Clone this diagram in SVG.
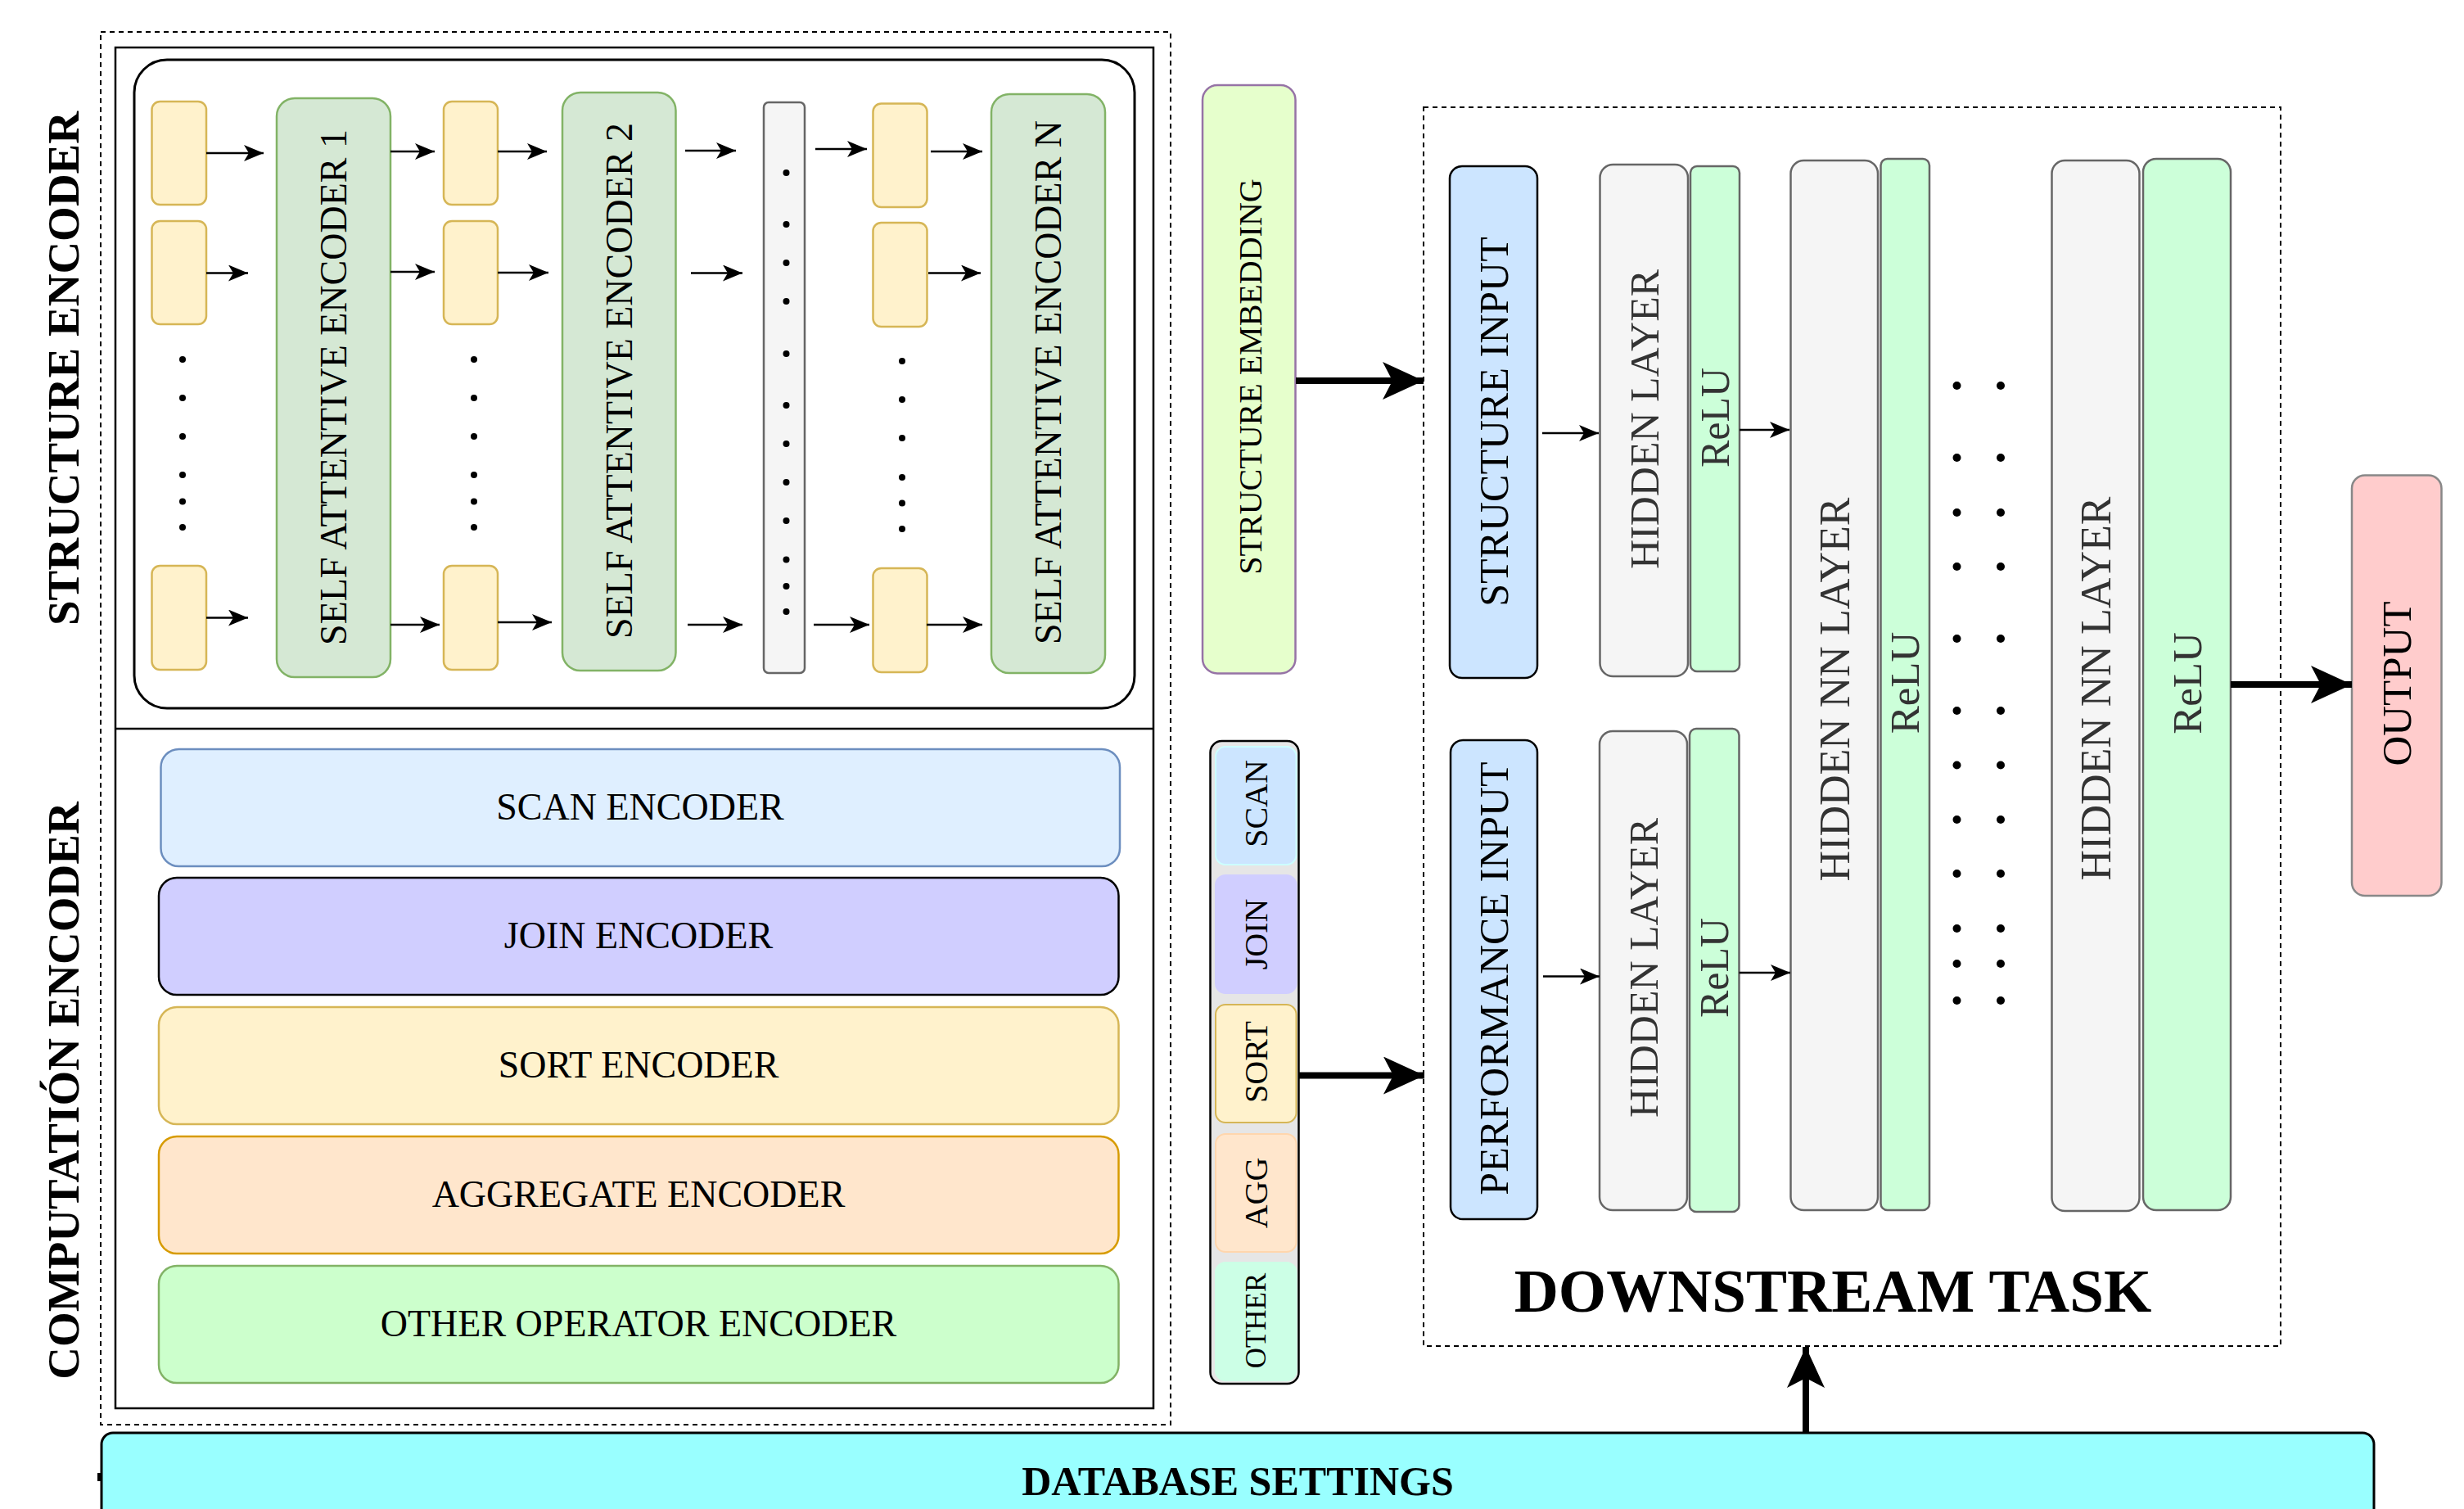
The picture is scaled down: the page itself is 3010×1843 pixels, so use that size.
<svg xmlns="http://www.w3.org/2000/svg" width="3010" height="1843" viewBox="0 0 3010 1843">
<style>
text{font-family:"Liberation Serif","Times New Roman",serif;fill:#000}
.v{text-anchor:middle;dominant-baseline:central}
.h{text-anchor:middle}
.b{font-weight:bold}
.tok{fill:#fff2cc;stroke:#d6b656;stroke-width:2.5}
.enc{fill:#d5e8d4;stroke:#82b366;stroke-width:2.5}
.gray{fill:#f5f5f5;stroke:#666;stroke-width:2.5}
.relu{fill:#ccffd9;stroke:#666;stroke-width:2.5}
.inp{fill:#cce5ff;stroke:#000;stroke-width:2.5}
.dash{fill:none;stroke:#000;stroke-width:2;stroke-dasharray:6 5}
.thin{stroke:#000;stroke-width:2.5;fill:none;marker-end:url(#a)}
.thick{stroke:#000;stroke-width:8;fill:none;marker-end:url(#A)}
.dot{fill:#000}
.g33{fill:#333}
</style>
<defs>
<marker id="a" markerUnits="userSpaceOnUse" markerWidth="26" markerHeight="22" refX="24" refY="10" orient="auto"><path d="M0,0 L24,10 L0,20 L6,10 Z" fill="#000"/></marker>
<marker id="A" markerUnits="userSpaceOnUse" markerWidth="52" markerHeight="48" refX="50" refY="23" orient="auto"><path d="M0,0 L50,23 L0,46 L12,23 Z" fill="#000"/></marker>
</defs>
<rect width="3010" height="1843" fill="#fff"/>

<!-- containers -->
<g id="encoder-frame">
<rect class="dash" x="123" y="39" width="1307" height="1701"/>
<rect x="141" y="58" width="1268" height="1662" fill="none" stroke="#000" stroke-width="2.5"/>
<line x1="141" y1="890" x2="1409" y2="890" stroke="#000" stroke-width="2.5"/>
<rect x="164" y="73" width="1222" height="792" rx="40" fill="none" stroke="#000" stroke-width="3"/>
</g>
<g id="label-structure-encoder"><text class="v b" font-size="55" transform="translate(77,450) rotate(-90)">STRUCTURE ENCODER</text></g>
<g id="label-computation-encoder"><text class="v b" font-size="55" transform="translate(77,1332) rotate(-90)">COMPUTATIÓN ENCODER</text></g>

<!-- token boxes -->
<g id="tokens-1">
<rect class="tok" x="185.5" y="124" width="66.5" height="126" rx="10"/>
<rect class="tok" x="185.5" y="270" width="66.5" height="126" rx="10"/>
<rect class="tok" x="185.5" y="691" width="66.5" height="127" rx="10"/>
<circle class="dot" cx="223" cy="439" r="4"/><circle class="dot" cx="223" cy="486" r="4"/><circle class="dot" cx="223" cy="533" r="4"/><circle class="dot" cx="223" cy="580" r="4"/><circle class="dot" cx="223" cy="612.5" r="4"/><circle class="dot" cx="223" cy="644" r="4"/>
</g>
<g id="tokens-2">
<rect class="tok" x="542" y="124" width="66" height="126" rx="10"/>
<rect class="tok" x="542" y="270" width="66" height="126" rx="10"/>
<rect class="tok" x="542" y="691" width="66" height="127" rx="10"/>
<circle class="dot" cx="579" cy="439" r="4"/><circle class="dot" cx="579" cy="486" r="4"/><circle class="dot" cx="579" cy="533" r="4"/><circle class="dot" cx="579" cy="580" r="4"/><circle class="dot" cx="579" cy="612.5" r="4"/><circle class="dot" cx="579" cy="644" r="4"/>
</g>
<g id="tokens-3">
<rect class="tok" x="1066.5" y="126.5" width="66" height="126.5" rx="10"/>
<rect class="tok" x="1066.5" y="272" width="66" height="127" rx="10"/>
<rect class="tok" x="1066.5" y="694" width="66" height="127" rx="10"/>
<circle class="dot" cx="1102" cy="441" r="4"/><circle class="dot" cx="1102" cy="488" r="4"/><circle class="dot" cx="1102" cy="535" r="4"/><circle class="dot" cx="1102" cy="583" r="4"/><circle class="dot" cx="1102" cy="614.5" r="4"/><circle class="dot" cx="1102" cy="646" r="4"/>
</g>
<g id="enc1"><rect class="enc" x="338" y="120" width="139" height="707" rx="22"/><text class="v" font-size="46" transform="translate(407.5,473) rotate(-90)">SELF ATTENTIVE ENCODER 1</text></g>
<g id="enc2"><rect class="enc" x="687" y="113" width="138.5" height="706" rx="22"/><text class="v" font-size="46" transform="translate(756,465) rotate(-90)">SELF ATTENTIVE ENCODER 2</text></g>
<g id="dots-col">
<rect class="gray" x="933" y="125" width="50" height="697" rx="6"/>
<circle class="dot" cx="960.5" cy="211" r="4"/><circle class="dot" cx="960.5" cy="274" r="4"/><circle class="dot" cx="960.5" cy="321" r="4"/><circle class="dot" cx="960.5" cy="368" r="4"/><circle class="dot" cx="960.5" cy="432" r="4"/><circle class="dot" cx="960.5" cy="495" r="4"/><circle class="dot" cx="960.5" cy="542" r="4"/><circle class="dot" cx="960.5" cy="589" r="4"/><circle class="dot" cx="960.5" cy="636" r="4"/><circle class="dot" cx="960.5" cy="683.5" r="4"/><circle class="dot" cx="960.5" cy="716" r="4"/><circle class="dot" cx="960.5" cy="747" r="4"/>
</g>
<g id="encN"><rect class="enc" x="1211" y="115" width="139" height="707" rx="22"/><text class="v" font-size="46" transform="translate(1280.5,467) rotate(-90)">SELF ATTENTIVE ENCODER N</text></g>

<!-- computation encoders -->
<g id="scan-encoder"><rect x="196.5" y="915" width="1171.5" height="143" rx="22" fill="#dfefff" stroke="#6c8ebf" stroke-width="2.5"/><text class="h" font-size="46" x="782" y="1001">SCAN ENCODER</text></g>
<g id="join-encoder"><rect x="194" y="1072" width="1172.5" height="143" rx="22" fill="#d0ceff" stroke="#000" stroke-width="2.5"/><text class="h" font-size="46" x="780" y="1158">JOIN ENCODER</text></g>
<g id="sort-encoder"><rect x="194" y="1230" width="1172.5" height="143" rx="22" fill="#fff2cc" stroke="#d6b656" stroke-width="2.5"/><text class="h" font-size="46" x="780" y="1316">SORT ENCODER</text></g>
<g id="aggregate-encoder"><rect x="194" y="1388" width="1172.5" height="143" rx="22" fill="#ffe6cc" stroke="#d79b00" stroke-width="2.5"/><text class="h" font-size="46" x="780" y="1474">AGGREGATE ENCODER</text></g>
<g id="other-encoder"><rect x="194" y="1546" width="1172.5" height="143" rx="22" fill="#ccffcc" stroke="#82b366" stroke-width="2.5"/><text class="h" font-size="46" x="780" y="1632">OTHER OPERATOR ENCODER</text></g>

<g id="structure-embedding"><rect x="1469" y="104" width="113.5" height="718.5" rx="18" fill="#e6ffcc" stroke="#9673a6" stroke-width="2.5"/><text class="v" font-size="40" transform="translate(1527,460) rotate(-90)">STRUCTURE EMBEDDING</text></g>

<g id="operator-embedding">
<rect x="1478.5" y="905" width="108" height="785" rx="14" fill="#e6e6e6" stroke="#000" stroke-width="2.5"/>
<rect x="1485" y="912" width="98.5" height="144" rx="12" fill="#cce5ff" stroke="#ccffff" stroke-width="2"/>
<rect x="1485" y="1069" width="98.5" height="144" rx="12" fill="#d0ceff" stroke="#d0ceff" stroke-width="2"/>
<rect x="1485" y="1227" width="98.5" height="144" rx="12" fill="#fff2cc" stroke="#d6b656" stroke-width="2"/>
<rect x="1485" y="1385" width="98.5" height="144" rx="12" fill="#ffe6cc" stroke="#ffd6ad" stroke-width="2"/>
<rect x="1485" y="1542" width="98.5" height="144" rx="12" fill="#ccffe6" stroke="#ccffe6" stroke-width="2"/>
<text class="v" font-size="40" transform="translate(1534,981.5) rotate(-90)">SCAN</text>
<text class="v" font-size="40" transform="translate(1534,1141) rotate(-90)">JOIN</text>
<text class="v" font-size="40" transform="translate(1534,1297) rotate(-90)">SORT</text>
<text class="v" font-size="40" transform="translate(1534,1457) rotate(-90)">AGG</text>
<text class="v" font-size="35" transform="translate(1534,1613) rotate(-90)">OTHER</text>
</g>

<!-- downstream task -->
<g id="downstream-task">
<rect class="dash" x="1739" y="131" width="1047" height="1513"/>
<text class="h b" font-size="75" x="2239" y="1602">DOWNSTREAM TASK</text>
</g>
<g id="structure-input"><rect class="inp" x="1771" y="203" width="107" height="625" rx="15"/><text class="v" font-size="50" transform="translate(1825,515) rotate(-90)">STRUCTURE INPUT</text></g>
<g id="performance-input"><rect class="inp" x="1772" y="904" width="106" height="585" rx="15"/><text class="v" font-size="50" transform="translate(1825,1195) rotate(-90)">PERFORMANCE INPUT</text></g>
<g id="hidden-1"><rect class="gray" x="1954.5" y="201" width="107.5" height="625" rx="16"/><text class="v g33" font-size="50" transform="translate(2009,512) rotate(-90)">HIDDEN LAYER</text></g>
<g id="relu-1"><rect class="relu" x="2065" y="203" width="60" height="617" rx="8"/><text class="v g33" font-size="50" transform="translate(2095,510) rotate(-90)">ReLU</text></g>
<g id="hidden-2"><rect class="gray" x="1954" y="893" width="107" height="585" rx="16"/><text class="v g33" font-size="50" transform="translate(2008,1182) rotate(-90)">HIDDEN LAYER</text></g>
<g id="relu-2"><rect class="relu" x="2064" y="890" width="60.5" height="590" rx="8"/><text class="v g33" font-size="50" transform="translate(2094,1182) rotate(-90)">ReLU</text></g>
<g id="hidden-nn-1"><rect class="gray" x="2187.5" y="196" width="106.5" height="1282" rx="16"/><text class="v g33" font-size="52" transform="translate(2241,842) rotate(-90)">HIDDEN NN LAYER</text></g>
<g id="relu-3"><rect class="relu" x="2297.5" y="194" width="59.5" height="1284" rx="8"/><text class="v g33" font-size="51" transform="translate(2327,834) rotate(-90)">ReLU</text></g>
<g id="dots-grid">
<circle class="dot" cx="2390.5" cy="471" r="5"/><circle class="dot" cx="2444" cy="471" r="5"/>
<circle class="dot" cx="2390.5" cy="559" r="5"/><circle class="dot" cx="2444" cy="559" r="5"/>
<circle class="dot" cx="2390.5" cy="626" r="5"/><circle class="dot" cx="2444" cy="626" r="5"/>
<circle class="dot" cx="2390.5" cy="692" r="5"/><circle class="dot" cx="2444" cy="692" r="5"/>
<circle class="dot" cx="2390.5" cy="780" r="5"/><circle class="dot" cx="2444" cy="780" r="5"/>
<circle class="dot" cx="2390.5" cy="868" r="5"/><circle class="dot" cx="2444" cy="868" r="5"/>
<circle class="dot" cx="2390.5" cy="934.5" r="5"/><circle class="dot" cx="2444" cy="934.5" r="5"/>
<circle class="dot" cx="2390.5" cy="1001" r="5"/><circle class="dot" cx="2444" cy="1001" r="5"/>
<circle class="dot" cx="2390.5" cy="1067" r="5"/><circle class="dot" cx="2444" cy="1067" r="5"/>
<circle class="dot" cx="2390.5" cy="1134" r="5"/><circle class="dot" cx="2444" cy="1134" r="5"/>
<circle class="dot" cx="2390.5" cy="1177" r="5"/><circle class="dot" cx="2444" cy="1177" r="5"/>
<circle class="dot" cx="2390.5" cy="1222" r="5"/><circle class="dot" cx="2444" cy="1222" r="5"/>
</g>
<g id="hidden-nn-2"><rect class="gray" x="2506.5" y="196" width="107" height="1283" rx="16"/><text class="v g33" font-size="52" transform="translate(2560,841) rotate(-90)">HIDDEN NN LAYER</text></g>
<g id="relu-4"><rect class="relu" x="2618" y="194" width="107" height="1284" rx="16"/><text class="v g33" font-size="51" transform="translate(2672,834.5) rotate(-90)">ReLU</text></g>
<g id="output"><rect x="2873" y="580.5" width="109.5" height="513.5" rx="16" fill="#ffcccc" stroke="#888" stroke-width="2.5"/><text class="v" font-size="51" transform="translate(2928,835) rotate(-90)">OUTPUT</text></g>

<g id="database-settings">
<rect x="124" y="1750" width="2776" height="150" rx="14" fill="#99ffff" stroke="#000" stroke-width="3"/>
<text class="h b" font-size="50" x="1512" y="1826">DATABASE SETTINGS</text>
<rect x="119" y="1799" width="4" height="10" fill="#000"/>
</g>

<!-- connectors -->
<g id="connectors">
<line class="thin" x1="252" y1="187" x2="322" y2="187"/>
<line class="thin" x1="477" y1="185" x2="531" y2="185"/>
<line class="thin" x1="608" y1="185" x2="668" y2="185"/>
<line class="thin" x1="837" y1="184" x2="899" y2="184"/>
<line class="thin" x1="996" y1="182" x2="1059" y2="182"/>
<line class="thin" x1="1137" y1="185" x2="1200" y2="185"/>
<line class="thin" x1="252" y1="333.5" x2="303" y2="333.5"/>
<line class="thin" x1="477" y1="332" x2="531" y2="332"/>
<line class="thin" x1="608" y1="333" x2="670" y2="333"/>
<line class="thin" x1="844" y1="333.5" x2="907" y2="333.5"/>
<line class="thin" x1="1134" y1="333.5" x2="1198" y2="333.5"/>
<line class="thin" x1="252" y1="754.5" x2="303" y2="754.5"/>
<line class="thin" x1="477" y1="763" x2="537" y2="763"/>
<line class="thin" x1="608" y1="760" x2="674" y2="760"/>
<line class="thin" x1="840" y1="763" x2="907" y2="763"/>
<line class="thin" x1="994" y1="763" x2="1062" y2="763"/>
<line class="thin" x1="1132" y1="763" x2="1200" y2="763"/>
<line class="thin" x1="1884" y1="529" x2="1953" y2="529"/>
<line class="thin" x1="2125" y1="525" x2="2186" y2="525"/>
<line class="thin" x1="1885" y1="1192.5" x2="1954" y2="1192.5"/>
<line class="thin" x1="2124.5" y1="1188" x2="2187" y2="1188"/>
<line class="thick" x1="1583" y1="465" x2="1739" y2="465"/>
<line class="thick" x1="1587" y1="1313.5" x2="1740" y2="1313.5"/>
<line class="thick" x1="2725" y1="836" x2="2873" y2="836"/>
<line class="thick" x1="2206" y1="1750" x2="2206" y2="1645"/>
</g>
</svg>
